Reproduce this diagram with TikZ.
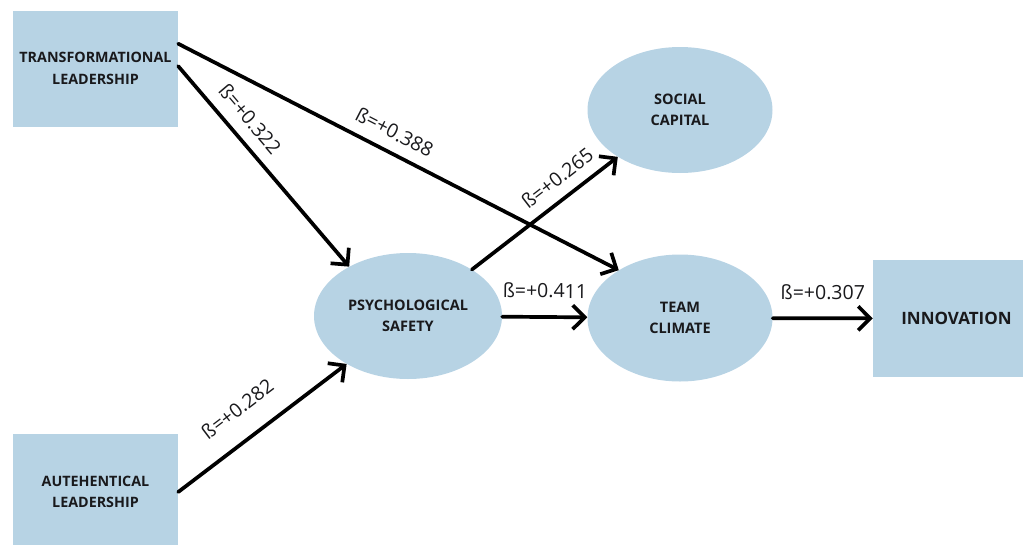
\documentclass[tikz,border=0pt]{standalone}
\usepackage{fontspec}
\setmainfont{Open Sans}
\usetikzlibrary{arrows.meta,shapes.geometric}
\definecolor{boxblue}{RGB}{183,211,228}
\definecolor{ink}{RGB}{25,25,28}
\begin{document}
\begin{tikzpicture}[x=1pt,y=-1pt,
  rectbox/.style={rectangle,fill=boxblue,inner sep=0pt,text=ink,align=center,
    font=\bfseries\fontsize{14.3}{21.5}\selectfont},
  ellbox/.style={ellipse,fill=boxblue,inner sep=0pt,text=ink,align=center,
    font=\bfseries\fontsize{14.5}{21.5}\selectfont},
  conn/.style={draw=black,line width=3.7pt,line cap=round,line join=round,
    -{Straight Barb[length=12pt,width=24pt]}},
  beta/.style={font=\fontsize{19.5}{19.5}\selectfont,text=ink,inner sep=0pt,sloped}
]
\useasboundingbox (0,0) rectangle (1023,544);

\node[rectbox,minimum width=165pt,minimum height=116pt] (tl) at (95.5,69) {\raisebox{4pt}{\begin{tabular}{@{}c@{}}TRANSFORMATIONAL\\LEADERSHIP\end{tabular}}};
\node[rectbox,minimum width=165pt,minimum height=116pt] (al) at (95.5,492) {AUTEHENTICAL\\LEADERSHIP};
\node[ellbox,minimum width=188pt,minimum height=126pt] (ps) at (408,316) {PSYCHOLOGICAL\\SAFETY};
\node[ellbox,minimum width=185pt,minimum height=127pt] (tc) at (680,318) {TEAM\\CLIMATE};
\node[ellbox,minimum width=185pt,minimum height=126pt] (sc) at (680,110) {SOCIAL\\CAPITAL};
\node[rectbox,minimum width=167pt,minimum height=117pt,
  font=\bfseries\fontsize{17}{20}\selectfont] (in) at (956.5,318.5) {INNOVATION};

\draw[conn] (tl.17) -- (tc.142) node[beta,pos=0.47,above=11pt] {ß=+0.388};
\draw[conn] (tl.2) -- (ps.140) node[beta,pos=0.33,above=11pt] {ß=+0.322};
\draw[conn] (al.east) -- (ps.218) node[beta,pos=0.46,above=21pt] {ß=+0.282};
\draw[conn] (ps.36) -- (sc.217) node[beta,pos=0.67,above=11pt] {ß=+0.265};
\draw[conn] (ps) -- (tc) node[beta,midway,above=17pt] {ß=+0.411};
\draw[conn] (tc) -- (in) node[beta,midway,above=17pt] {ß=+0.307};
\end{tikzpicture}
\end{document}
